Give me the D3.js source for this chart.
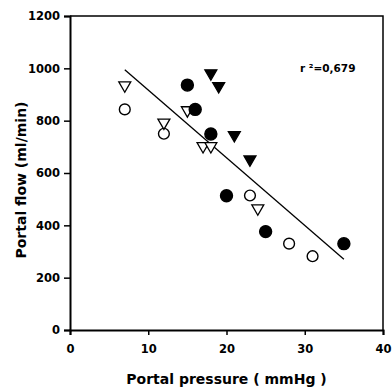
<!DOCTYPE html>
<html>
<head>
<meta charset="utf-8">
<script src="https://cdn.jsdelivr.net/npm/d3@7"></script>
<style>
  body { margin: 0; background: #fff; }
  text { font-family: "DejaVu Sans", sans-serif; font-weight: bold; fill: #000; }
</style>
</head>
<body>
<div id="chart"></div>
<script>
// Valeurs
const openCircleX = [7, 12, 23, 28, 31];
const openCircleY = [843, 750, 514, 330, 282];
const filledCircleX = [15, 16, 18, 20, 25, 35];
const filledCircleY = [936, 843, 749, 513, 376, 330];
const openTriX = [7, 12, 15, 17, 18, 24];
const openTriY = [935, 793, 840, 703, 703, 465];
const filledTriX = [18, 19, 21, 23];
const filledTriY = [981, 932, 745, 652];
const fitX = [7, 35];
const fitY = [995, 270];
const xTicks = [0, 10, 20, 30, 40];
const yTicks = [0, 200, 400, 600, 800, 1000, 1200];

const margin = {top: 16, right: 9, bottom: 59, left: 70},
    width = 392 - margin.left - margin.right,
    height = 389 - margin.top - margin.bottom;

const svg = d3.select("#chart")
    .append("svg")
    .attr("width", 392)
    .attr("height", 389)
    .append("g")
    .attr("transform", `translate(${margin.left},${margin.top})`);

const x = d3.scaleLinear().domain([0, 40]).range([0, width]);
const y = d3.scaleLinear().domain([0, 1200]).range([height, 0]);

// Cadre haut et droit
svg.append("path")
    .attr("d", `M0,0H${width}V${height}`)
    .attr("fill", "none")
    .attr("stroke", "#000")
    .attr("stroke-width", 1.5);

// Axes
const xAxis = svg.append("g")
    .attr("transform", `translate(0,${height})`)
    .call(d3.axisBottom(x).tickValues(xTicks).tickFormat(d3.format("d")).tickSize(5).tickPadding(10));
const yAxis = svg.append("g")
    .call(d3.axisLeft(y).tickValues(yTicks).tickFormat(d3.format("d")).tickSize(6).tickPadding(4));
[xAxis, yAxis].forEach(function(a) {
    a.select(".domain").attr("stroke-width", 2);
    a.selectAll(".tick line").attr("stroke-width", 1.5);
    a.selectAll("text")
        .style("font-size", "11.5px")
        .style("font-family", "DejaVu Sans, sans-serif")
        .style("font-weight", "bold");
});

// Droite de regression
svg.append("path")
    .datum(d3.zip(fitX, fitY))
    .attr("fill", "none")
    .attr("stroke", "#000")
    .attr("stroke-width", 1.3)
    .attr("d", d3.line().x(d => x(d[0])).y(d => y(d[1])));

// Points
const tri = d3.symbol().type(d3.symbolTriangle).size(62);
function triangles(xs, ys, fill) {
    svg.selectAll(null)
        .data(d3.zip(xs, ys))
        .join("path")
        .attr("d", tri)
        .attr("transform", d => `translate(${x(d[0])},${y(d[1])}) rotate(180)`)
        .attr("fill", fill)
        .attr("stroke", "#000")
        .attr("stroke-width", 1.3);
}
function circles(xs, ys, fill) {
    svg.selectAll(null)
        .data(d3.zip(xs, ys))
        .join("circle")
        .attr("cx", d => x(d[0]))
        .attr("cy", d => y(d[1]))
        .attr("r", fill === "#000" ? 6 : 5.4)
        .attr("fill", fill)
        .attr("stroke", "#000")
        .attr("stroke-width", 1.4);
}
circles(openCircleX, openCircleY, "#fff");
triangles(openTriX, openTriY, "#fff");
circles(filledCircleX, filledCircleY, "#000");
triangles(filledTriX, filledTriY, "#000");

// Textes
svg.append("text")
    .attr("x", 230)
    .attr("y", 56)
    .style("font-size", "10.5px")
    .text("r ²=0,679");

svg.append("text")
    .attr("text-anchor", "middle")
    .attr("x", width / 2)
    .attr("y", height + 54)
    .style("font-size", "14px")
    .text("Portal pressure ( mmHg )");

svg.append("text")
    .attr("text-anchor", "middle")
    .attr("transform", `translate(-44,${164}) rotate(-90)`)
    .style("font-size", "14px")
    .text("Portal flow (ml/min)");
</script>
</body>
</html>
